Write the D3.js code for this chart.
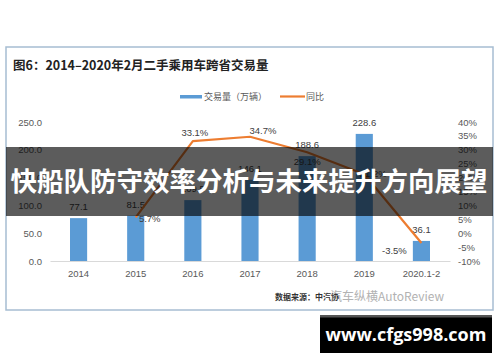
<!DOCTYPE html>
<html>
<head>
<meta charset="utf-8">
<script src="https://cdn.jsdelivr.net/npm/d3@7"></script>
<style>
  body { margin: 0; background: #fff; }
  svg { display: block; font-family: "Liberation Sans", Arial, sans-serif; }
</style>
</head>
<body>
<div id="chart"></div>
<script>
// chart data
const categories = ["2014", "2015", "2016", "2017", "2018", "2019", "2020.1-2"];
const volume = [77.1, 81.5, 109.5, 146.1, 188.6, 228.6, 36.1];   // 交易量（万辆）
const yoyCats = ["2015", "2016", "2017", "2018", "2019", "2020.1-2"];
const yoy = [5.7, 33.1, 34.7, 29.1, 21.2, -3.5];                 // 同比 %
const leftTicks = [0, 50, 100, 150, 200, 250];
const rightTicks = [-10, -5, 0, 5, 10, 15, 20, 25, 30, 35, 40];

// label nudges for the yoy values (dx, dy)
const yoyLabelOffset = [[14, 5], [2, -5], [13, -3], [0, 13], [9, 3], [-27, 11]];

const W = 500, H = 362;
const svg = d3.select("#chart").append("svg")
    .attr("width", W)
    .attr("height", H);

// frame
svg.append("rect")
    .attr("x", 6).attr("y", 47)
    .attr("width", 487).attr("height", 263)
    .attr("fill", "#fff")
    .attr("stroke", "#a7bdd2")
    .attr("stroke-width", 1.5);

svg.append("text")
    .attr("x", 13).attr("y", 70)
    .style("font-family", "'Noto Sans CJK SC', sans-serif")
    .style("font-size", "12.5px")
    .style("font-weight", "bold")
    .attr("fill", "#222")
    .text("图6：2014–2020年2月二手乘用车跨省交易量");

// scales
const x = d3.scaleBand()
    .domain(categories)
    .range([50, 450])
    .paddingInner(0.7)
    .paddingOuter(0.35);

const yLeft = d3.scaleLinear().domain([0, 250]).range([261, 122]);
const yRight = d3.scaleLinear().domain([-10, 40]).range([261, 122]);

const cx = d => x(d) + x.bandwidth() / 2;

// axes
const leftAxis = d3.axisLeft(yLeft).tickValues(leftTicks).tickFormat(d3.format(".1f")).tickSize(0);
const rightAxis = d3.axisRight(yRight).tickValues(rightTicks).tickFormat(d => d + "%").tickSize(0);
const bottomAxis = d3.axisBottom(x).tickSize(0);

const gl = svg.append("g").attr("transform", "translate(50,0)").call(leftAxis);
gl.select(".domain").remove();
gl.selectAll("text").attr("x", -8).attr("fill", "#595959").style("font-size", "9.5px");

const gr = svg.append("g").attr("transform", "translate(450,0)").call(rightAxis);
gr.select(".domain").remove();
gr.selectAll("text").attr("x", 8).attr("fill", "#595959").style("font-size", "9.5px");

const gb = svg.append("g").attr("transform", "translate(0,261)").call(bottomAxis);
gb.select(".domain").attr("stroke", "#d9d9d9");
gb.selectAll("text").attr("y", 9).attr("fill", "#595959").style("font-size", "9.5px");

// bars
svg.selectAll(".bar")
    .data(volume)
    .enter().append("rect")
    .attr("class", "bar")
    .attr("x", (d, i) => x(categories[i]))
    .attr("y", d => yLeft(d))
    .attr("width", x.bandwidth())
    .attr("height", d => yLeft(0) - yLeft(d))
    .attr("fill", "#5b9bd5");

svg.selectAll(".barLabel")
    .data(volume)
    .enter().append("text")
    .attr("x", (d, i) => cx(categories[i]))
    .attr("y", d => yLeft(d) - 8)
    .attr("text-anchor", "middle")
    .attr("fill", "#404040")
    .style("font-size", "9.5px")
    .text(d => d.toFixed(1));

// yoy line
const line = d3.line()
    .x((d, i) => cx(yoyCats[i]))
    .y(d => yRight(d));

svg.append("path")
    .datum(yoy)
    .attr("d", line)
    .attr("fill", "none")
    .attr("stroke", "#ed7d31")
    .attr("stroke-width", 2.2)
    .attr("stroke-linejoin", "round");

svg.selectAll(".yoyLabel")
    .data(yoy)
    .enter().append("text")
    .attr("x", (d, i) => cx(yoyCats[i]) + yoyLabelOffset[i][0])
    .attr("y", (d, i) => yRight(d) + yoyLabelOffset[i][1])
    .attr("text-anchor", "middle")
    .attr("fill", "#404040")
    .style("font-size", "9.5px")
    .text(d => d.toFixed(1) + "%");

// legend
const legend = svg.append("g").style("font-family", "'Noto Sans CJK SC', sans-serif").style("font-size", "9px");
legend.append("rect").attr("x", 180).attr("y", 95).attr("width", 22).attr("height", 3.5).attr("fill", "#5b9bd5");
legend.append("text").attr("x", 204).attr("y", 100).attr("fill", "#595959").text("交易量（万辆）");
legend.append("line").attr("x1", 280).attr("x2", 305).attr("y1", 96.5).attr("y2", 96.5)
    .attr("stroke", "#ed7d31").attr("stroke-width", 2.2);
legend.append("text").attr("x", 306).attr("y", 100).attr("fill", "#595959").text("同比");

// source line + watermark
svg.append("text")
    .attr("x", 275).attr("y", 300)
    .style("font-family", "'Noto Sans CJK SC', sans-serif")
    .style("font-size", "8px")
    .style("font-weight", "bold")
    .attr("fill", "#333")
    .text("数据来源：中汽协");
svg.append("text")
    .attr("x", 330).attr("y", 301)
    .style("font-family", "'Noto Sans CJK SC', sans-serif")
    .style("font-size", "12px")
    .attr("fill", "#999")
    .attr("opacity", 0.75)
    .text("汽车纵横AutoReview");

// overlay banner
svg.append("rect")
    .attr("x", 6).attr("y", 147)
    .attr("width", 487).attr("height", 69)
    .attr("fill", "#000")
    .attr("opacity", 0.64);
svg.append("text")
    .attr("x", 249).attr("y", 191)
    .attr("text-anchor", "middle")
    .style("font-family", "'Noto Sans CJK SC', sans-serif")
    .style("font-size", "26.5px")
    .style("font-weight", "bold")
    .attr("fill", "#fff")
    .text("快船队防守效率分析与未来提升方向展望");

// url box
svg.append("rect").attr("x", 320).attr("y", 315).attr("width", 172).attr("height", 38).attr("fill", "#000");
svg.append("rect").attr("x", 320).attr("y", 315).attr("width", 172).attr("height", 2.5).attr("fill", "#555");
svg.append("text")
    .attr("x", 406).attr("y", 341)
    .attr("text-anchor", "middle")
    .style("font-family", "'Open Sans', 'DejaVu Sans', sans-serif")
    .style("font-size", "18px")
    .style("font-weight", "bold")
    .attr("fill", "#fff")
    .text("www.cfgs998.com");
</script>
</body>
</html>
